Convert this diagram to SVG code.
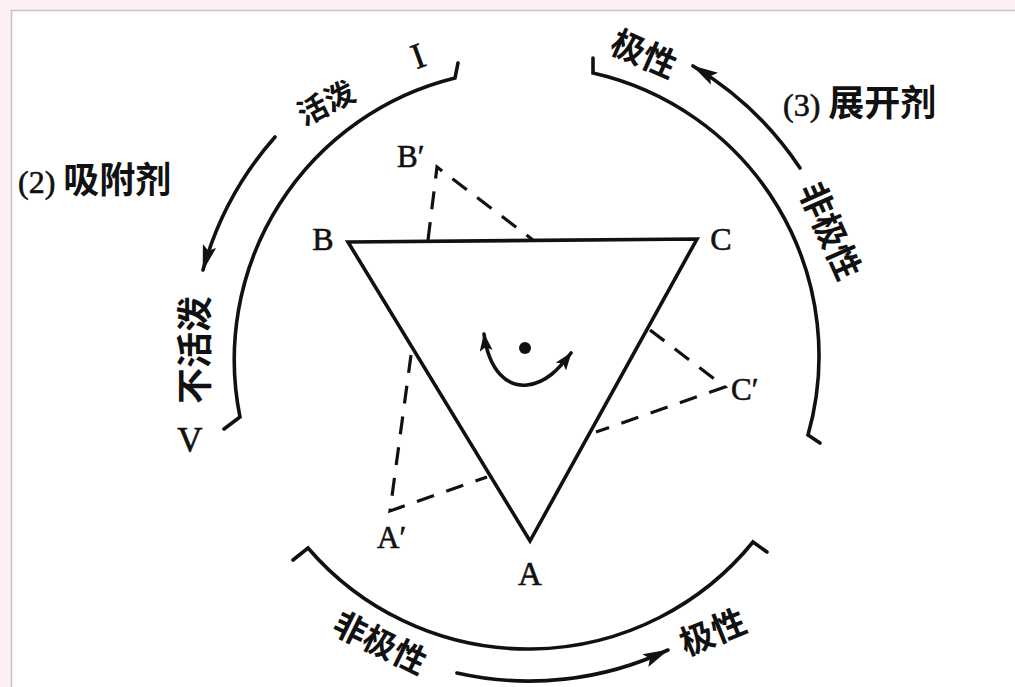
<svg xmlns="http://www.w3.org/2000/svg" width="1015" height="687" viewBox="0 0 1015 687">
<defs>
<style>
.ln{fill:none;stroke:#111;stroke-width:3.6;stroke-linecap:round;stroke-linejoin:miter}
.ds{fill:none;stroke:#111;stroke-width:3.2;stroke-dasharray:18 13}
.lat{font-family:"Liberation Serif","Times New Roman",serif;fill:#111;stroke:#111;stroke-width:0.6}
.cjk{font-family:"Noto Sans CJK SC","Noto Sans CJK TC",sans-serif;font-weight:700;fill:#111}
</style>
<marker id="ah" viewBox="0 0 26 14" refX="25" refY="7" markerWidth="26" markerHeight="14" markerUnits="userSpaceOnUse" orient="auto">
<path d="M0,0 L26,7 L0,14 L5,7 z" fill="#111"/>
</marker>
<marker id="sh" viewBox="0 0 18 13" refX="17" refY="6.5" markerWidth="18" markerHeight="13" markerUnits="userSpaceOnUse" orient="auto-start-reverse">
<path d="M0,0 L18,6.5 L0,13 L4,6.5 z" fill="#111"/>
</marker>
</defs>
<rect x="0" y="0" width="1015" height="687" fill="#fdf0f2"/>
<rect x="11.5" y="10.5" width="1010" height="684" fill="#fff" stroke="#c9c0c4" stroke-width="1.5"/>

<g id="connectors">
<path class="ln" d="M458,63 L455,78 A290,290 0 0,0 240,417 L224,429"/>
<path class="ln" d="M593,58 L593,73 A290,290 0 0,1 808,435 L820,443"/>
<path class="ln" d="M293,560 L308,548 A290,290 0 0,0 753,542 L767,552"/>
<path class="ln" d="M275,137 A334,334 0 0,0 203,270" marker-end="url(#ah)"/>
<path class="ln" d="M800,168 A334,334 0 0,0 693,66" marker-end="url(#ah)"/>
<path class="ln" d="M457,673 A326,326 0 0,0 668,650" marker-end="url(#ah)"/>
<path class="ln" d="M484,334 C489,372 508,387 527,385 C546,383 559,369 571,353" marker-start="url(#sh)" marker-end="url(#sh)"/>
<path class="ds" d="M428,240 L437,167 L533,240"/>
<path class="ds" d="M650,330 L725,387 L596,432"/>
<path class="ds" d="M411,355 L390,511 L487,477"/>
</g>

<g id="triangle">
<polygon class="ln" points="348,242 697,239 530,541"/>
<circle cx="525" cy="348" r="6" fill="#111"/>
</g>

<g id="labels">
<text class="lat" x="323" y="250" font-size="32" text-anchor="middle">B</text>
<text class="lat" x="721" y="250" font-size="32" text-anchor="middle">C</text>
<text class="lat" x="530" y="585" font-size="33" text-anchor="middle">A</text>
<text class="lat" x="377" y="548" font-size="31">A′</text>
<text class="lat" x="397" y="167" font-size="31">B′</text>
<text class="lat" x="731" y="400" font-size="31">C′</text>
<text class="lat" x="190" y="452" font-size="35" text-anchor="middle">V</text>
<text class="lat" font-size="36" text-anchor="middle" dominant-baseline="central" transform="translate(418,56) rotate(-20)">I</text>
</g>

<g id="adsorbent">
<text x="18" y="193"><tspan class="lat" font-size="32">(2) </tspan><tspan class="cjk" font-size="36">吸附剂</tspan></text>
<text class="cjk" font-size="30" text-anchor="middle" dominant-baseline="central" transform="translate(325,101) rotate(-27)">活泼</text>
<text class="cjk" font-size="36" text-anchor="middle" dominant-baseline="central" transform="translate(192,350) rotate(-90)">不活泼</text>
</g>

<g id="developer">
<text x="783" y="116"><tspan class="lat" font-size="32">(3) </tspan><tspan class="cjk" font-size="36">展开剂</tspan></text>
<text class="cjk" font-size="34" text-anchor="middle" dominant-baseline="central" transform="translate(645,52) rotate(24)">极性</text>
<text class="cjk" font-size="34" text-anchor="middle" dominant-baseline="central" transform="translate(832,230) rotate(66)">非极性</text>
</g>

<g id="sample">
<text class="cjk" font-size="33" text-anchor="middle" dominant-baseline="central" transform="translate(381,641) rotate(26)">非极性</text>
<text class="cjk" font-size="34" text-anchor="middle" dominant-baseline="central" transform="translate(712,630) rotate(-22)">极性</text>
</g>
</svg>
